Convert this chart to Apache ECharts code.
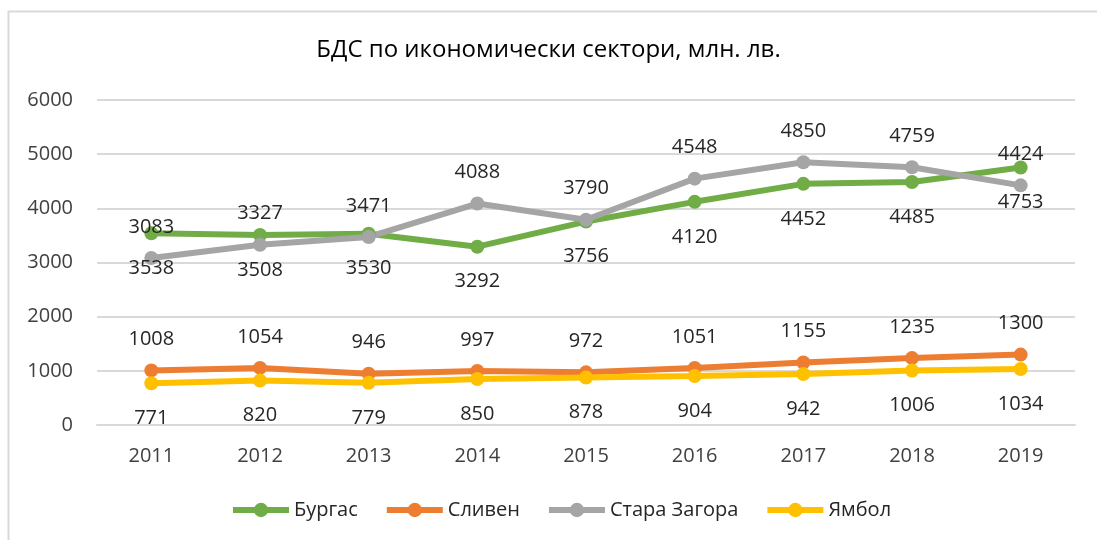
<!DOCTYPE html>
<html>
<head>
<meta charset="utf-8">
<script src="https://cdn.jsdelivr.net/npm/echarts@6/dist/echarts.min.js"></script>
<style>
  html, body { margin: 0; padding: 0; background: #fff; }
  #chart { width: 1097px; height: 540px; }
</style>
</head>
<body>
<div id="chart"></div>
<script>
// данни
var years = ['2011', '2012', '2013', '2014', '2015', '2016', '2017', '2018', '2019'];
var burgas = [3538, 3508, 3530, 3292, 3756, 4120, 4452, 4485, 4753];
var sliven = [1008, 1054, 946, 997, 972, 1051, 1155, 1235, 1300];
var staraZagora = [3083, 3327, 3471, 4088, 3790, 4548, 4850, 4759, 4424];
var yambol = [771, 820, 779, 850, 878, 904, 942, 1006, 1034];

var font = '"Open Sans", "Noto Sans", sans-serif';

function lineSeries(name, data, color, labelPos) {
  return {
    name: name,
    type: 'line',
    data: data,
    symbol: 'circle',
    symbolSize: 14,
    itemStyle: { color: color },
    lineStyle: { color: color, width: 6 },
    label: {
      show: true,
      position: labelPos,
      distance: labelPos == 'top' ? 14 : 18,
      fontFamily: font,
      fontSize: 20,
      color: '#262626'
    }
  };
}

var chart = echarts.init(document.getElementById('chart'));
chart.setOption({
  animation: false,
  textStyle: { fontFamily: font },
  title: {
    text: 'БДС по икономически сектори, млн. лв.',
    left: 'center',
    top: 33,
    textStyle: { fontFamily: font, fontSize: 24, fontWeight: 'normal', color: '#000' }
  },
  graphic: [{
    type: 'rect',
    shape: { x: 8.5, y: 11.5, width: 1200, height: 600 },
    style: { fill: 'none', stroke: '#d9d9d9', lineWidth: 2 },
    silent: true
  }],
  legend: {
    top: 495,
    left: 225,
    itemWidth: 56,
    itemHeight: 18,
    itemGap: 26,
    lineStyle: { width: 6 },
    textStyle: { fontFamily: font, fontSize: 20, color: '#262626' }
  },
  grid: { left: 97, right: 22, top: 100, bottom: 115 },
  xAxis: {
    type: 'category',
    data: years,
    axisTick: { show: false },
    axisLine: { lineStyle: { color: '#d9d9d9', width: 2 } },
    axisLabel: { margin: 21, fontFamily: font, fontSize: 20, color: '#404040' }
  },
  yAxis: {
    type: 'value',
    min: 0,
    max: 6000,
    interval: 1000,
    axisLine: { show: false },
    axisTick: { show: false },
    splitLine: { lineStyle: { color: '#d9d9d9', width: 2 } },
    axisLabel: {
      margin: 24, fontFamily: font, fontSize: 20, color: '#404040',
      formatter: function (v) { return String(v); }
    }
  },
  series: [
    lineSeries('Бургас', burgas, '#70ad47', 'bottom'),
    lineSeries('Сливен', sliven, '#ed7d31', 'top'),
    lineSeries('Стара Загора', staraZagora, '#a5a5a5', 'top'),
    lineSeries('Ямбол', yambol, '#ffc000', 'bottom')
  ]
});
</script>
</body>
</html>
